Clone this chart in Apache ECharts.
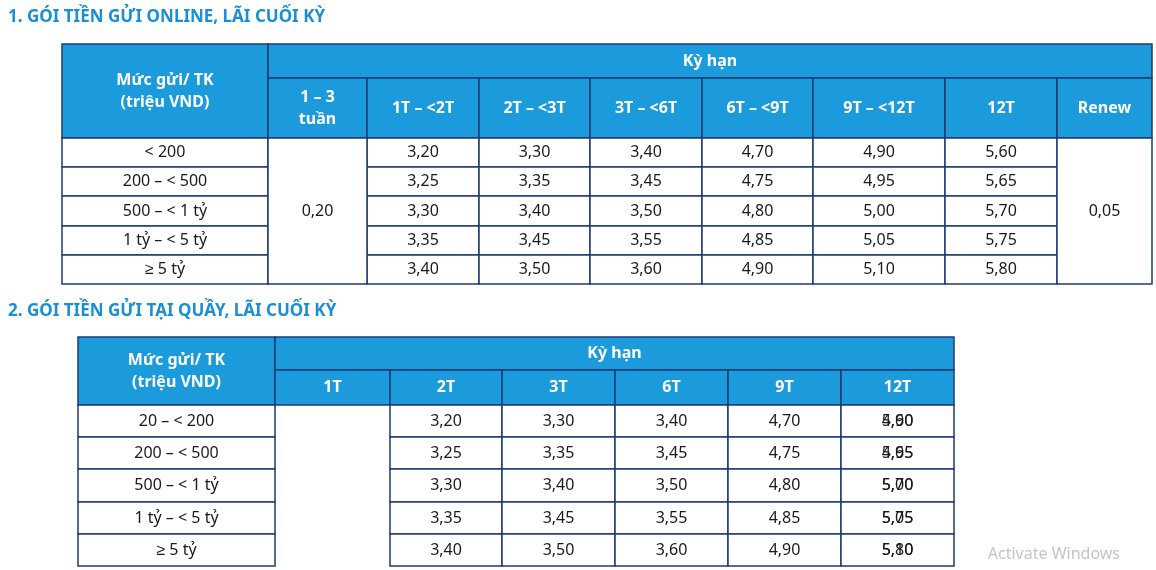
<!DOCTYPE html>
<html><head><meta charset="utf-8">
<script src="https://cdn.jsdelivr.net/npm/echarts@6/dist/echarts.min.js"></script>
<style>html,body{margin:0;padding:0;background:#fff}#c{width:1156px;height:570px}</style>
</head><body><div id="c"></div>
<script>
const title1 = "1. GÓI TIỀN GỬI ONLINE, LÃI CUỐI KỲ";
const title2 = "2. GÓI TIỀN GỬI TẠI QUẦY, LÃI CUỐI KỲ";
const corner = "Mức gửi/ TK\n(triệu VND)";
const termHeader = "Kỳ hạn";
const terms1 = ["1 – 3\ntuần","1T – <2T","2T – <3T","3T – <6T","6T – <9T","9T – <12T","12T","Renew"];
const tiers1 = ["< 200","200 – < 500","500 – < 1 tỷ","1 tỷ – < 5 tỷ","≥ 5 tỷ"];
const shortRate1 = "0,20";
const renewRate1 = "0,05";
const rates1 = [
 ["3,20","3,30","3,40","4,70","4,90","5,60"],
 ["3,25","3,35","3,45","4,75","4,95","5,65"],
 ["3,30","3,40","3,50","4,80","5,00","5,70"],
 ["3,35","3,45","3,55","4,85","5,05","5,75"],
 ["3,40","3,50","3,60","4,90","5,10","5,80"]];
const terms2 = ["1T","2T","3T","6T","9T","12T"];
const tiers2 = ["20 – < 200","200 – < 500","500 – < 1 tỷ","1 tỷ – < 5 tỷ","≥ 5 tỷ"];
const rates2 = [
 ["3,20","3,30","3,40","4,70","4,90","5,60"],
 ["3,25","3,35","3,45","4,75","4,95","5,65"],
 ["3,30","3,40","3,50","4,80","5,00","5,70"],
 ["3,35","3,45","3,55","4,85","5,05","5,75"],
 ["3,40","3,50","3,60","4,90","5,10","5,80"]];

// layout
const colW1=[206,99,112,111,112,111,132,112,95], rowH1=[34,60,29,29,30,29,29];
const colW2=[197,115,112,113,113,113,113], rowH2=[33,35,32,32,33,32,32];
const edges=a=>a.reduce((r,v)=>(r.push(r[r.length-1]+v),r),[0]);
function cell(cx,cy,c0,c1,r0,r1,text,head){return [cx[c0],cx[c1],cy[r0],cy[r1],text,head?1:0];}

const cx1=edges(colW1), cy1=edges(rowH1), cells1=[];
cells1.push(cell(cx1,cy1,0,1,0,2,corner,1));
cells1.push(cell(cx1,cy1,1,9,0,1,termHeader,1));
terms1.forEach((t,i)=>cells1.push(cell(cx1,cy1,i+1,i+2,1,2,t,1)));
tiers1.forEach((t,r)=>{cells1.push(cell(cx1,cy1,0,1,r+2,r+3,t,0));
  rates1[r].forEach((v,c)=>cells1.push(cell(cx1,cy1,c+2,c+3,r+2,r+3,v,0)));});
cells1.push(cell(cx1,cy1,1,2,2,7,shortRate1,0));
cells1.push(cell(cx1,cy1,8,9,2,7,renewRate1,0));

const cx2=edges(colW2), cy2=edges(rowH2), cells2=[];
cells2.push(cell(cx2,cy2,0,1,0,2,corner,1));
cells2.push(cell(cx2,cy2,1,7,0,1,termHeader,1));
terms2.forEach((t,i)=>cells2.push(cell(cx2,cy2,i+1,i+2,1,2,t,1)));
tiers2.forEach((t,r)=>{cells2.push(cell(cx2,cy2,0,1,r+2,r+3,t,0));
  rates2[r].forEach((v,c)=>cells2.push(cell(cx2,cy2,c+2,c+3,r+2,r+3,v,0)));});

function renderItem(params,api){
  const p0=api.coord([api.value(0),api.value(2)]), p1=api.coord([api.value(1),api.value(3)]);
  const head=api.value(5)===1;
  return {type:'rect',shape:{x:p0[0],y:p0[1],width:p1[0]-p0[0],height:p1[1]-p0[1]},
    style:{fill:head?'#1b9bdc':'#fff',stroke:'#1e3b73',lineWidth:1.5},
    textContent:{style:{text:api.value(4),fill:head?'#fff':'#1a1a1a',
      font:(head?'bold ':'')+'16px "Noto Sans", sans-serif',align:'center',lineHeight:22}},
    textConfig:{position:'inside'}};
}
const ax=(i,max,inv)=>({gridIndex:i,type:'value',min:0,max:max,inverse:inv,show:false});
const chart=echarts.init(document.getElementById('c'));
chart.setOption({
  animation:false,
  title:[{text:title1,left:3,top:4,textStyle:{color:'#1a8fd6',fontSize:17,fontWeight:'bold',fontFamily:'Noto Sans'}},
         {text:title2,left:3,top:298,textStyle:{color:'#1a8fd6',fontSize:17,fontWeight:'bold',fontFamily:'Noto Sans'}}],
  graphic:[{type:'text',right:36,bottom:8,style:{text:'Activate Windows',fill:'#c4c4c4',font:'16px "Noto Sans"'}}],
  grid:[{left:62,top:44,width:cx1[cx1.length-1],height:cy1[cy1.length-1]},
        {left:78,top:337,width:cx2[cx2.length-1],height:cy2[cy2.length-1]}],
  xAxis:[ax(0,cx1[cx1.length-1],false),ax(1,cx2[cx2.length-1],false)],
  yAxis:[ax(0,cy1[cy1.length-1],true),ax(1,cy2[cy2.length-1],true)],
  series:[{type:'custom',xAxisIndex:0,yAxisIndex:0,renderItem,data:cells1},
          {type:'custom',xAxisIndex:1,yAxisIndex:1,renderItem,data:cells2}]
});
</script></body></html>
